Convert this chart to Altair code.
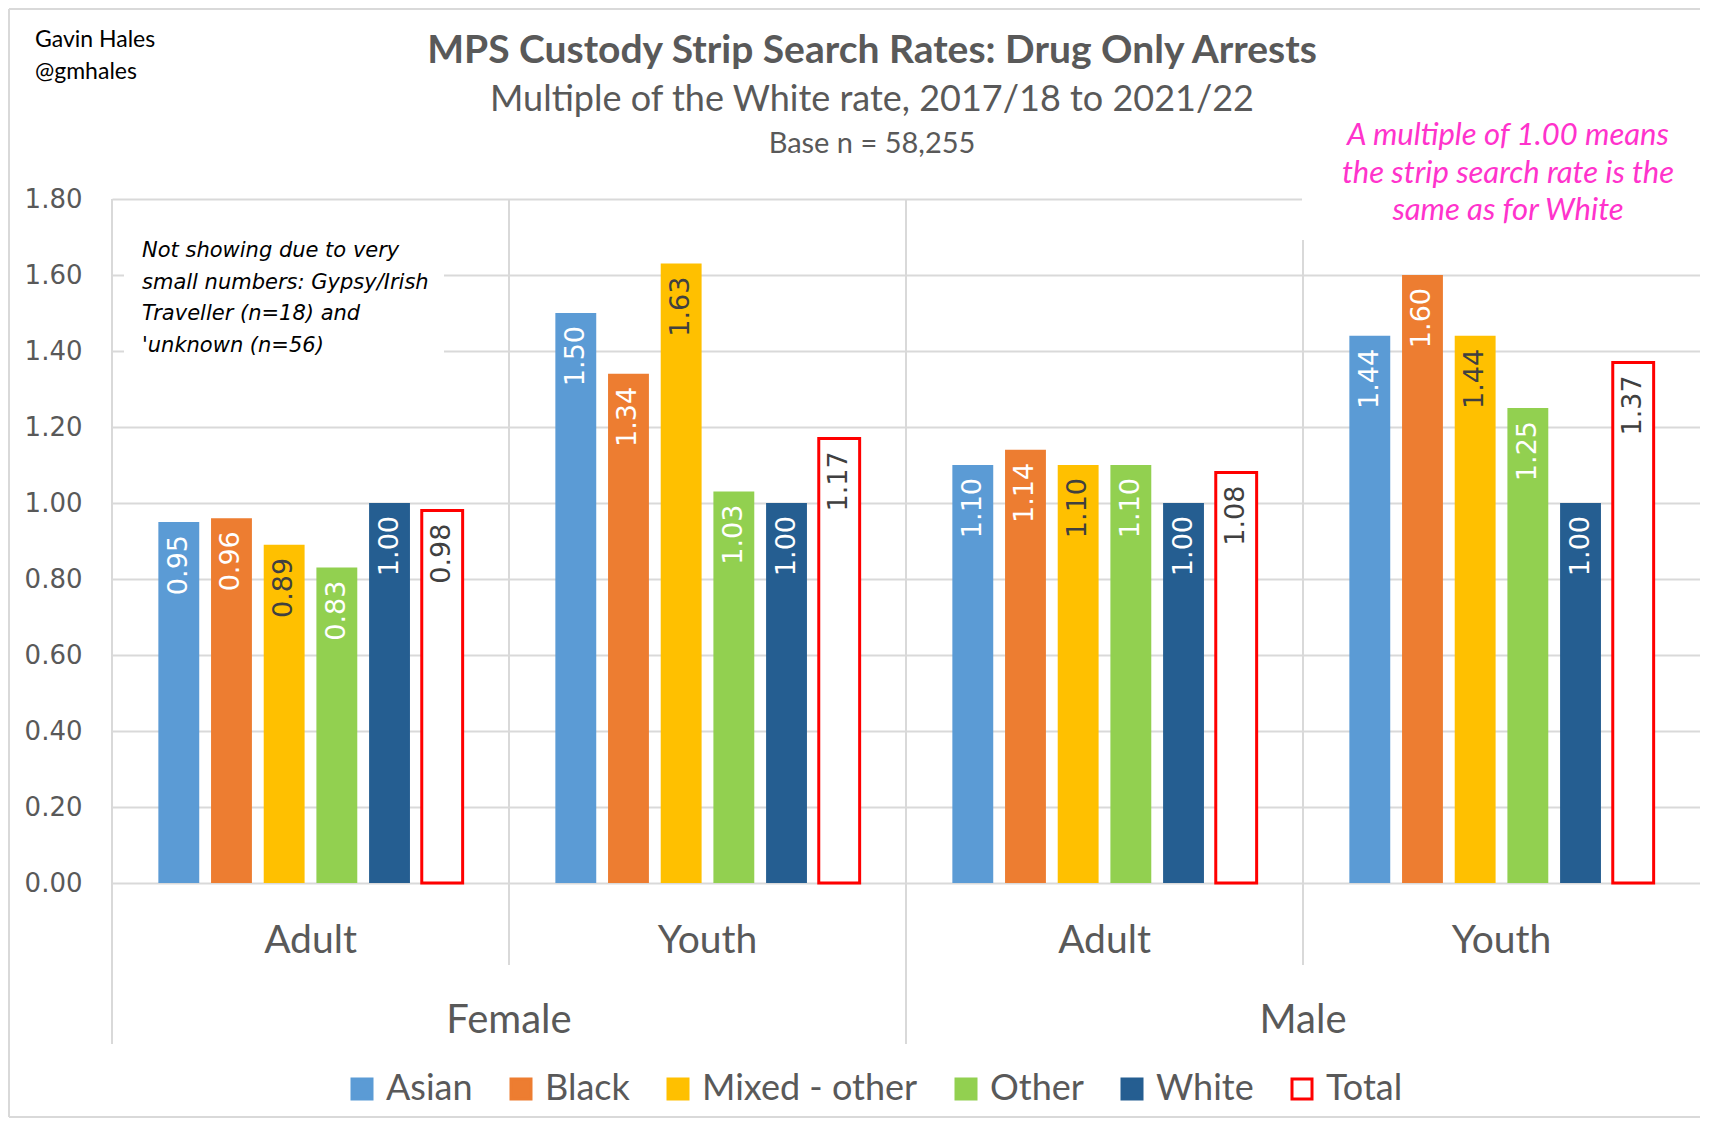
import altair as alt
import pandas as pd

# ---------------- data ----------------
groups = ["Female|Adult", "Female|Youth", "Male|Adult", "Male|Youth"]
ethnicities = ["Asian", "Black", "Mixed - other", "Other", "White", "Total"]
female_adult = [0.95, 0.96, 0.89, 0.83, 1.00, 0.98]
female_youth = [1.50, 1.34, 1.63, 1.03, 1.00, 1.17]
male_adult = [1.10, 1.14, 1.10, 1.10, 1.00, 1.08]
male_youth = [1.44, 1.60, 1.44, 1.25, 1.00, 1.37]
fill_colors = ["#5B9BD5", "#ED7D31", "#FFC000", "#92D050", "#255E91", "#FFFFFF"]
stroke_colors = ["#5B9BD5", "#ED7D31", "#FFC000", "#92D050", "#255E91", "#FF0000"]
dark_labels = ["Mixed - other", "Total"]
y_ticks = [0.0, 0.2, 0.4, 0.6, 0.8, 1.0, 1.2, 1.4, 1.6, 1.8]
gender_labels = ["Female", "Male"]
gender_pos = ["Female|Youth", "Male|Youth"]

title_text = "MPS Custody Strip Search Rates: Drug Only Arrests"
subtitle_text = "Multiple of the White rate, 2017/18 to 2021/22"
base_text = "Base n = 58,255"
author_lines = ["Gavin Hales", "@gmhales"]
note_lines = ["Not showing due to very", "small numbers: Gypsy/Irish",
              "Traveller (n=18) and", "'unknown (n=56)"]
pink_lines = ["A multiple of 1.00 means", "the strip search rate is the",
              "same as for White"]

rows = []
for g, vals in zip(groups, [female_adult, female_youth, male_adult, male_youth]):
    for e, v in zip(ethnicities, vals):
        rows.append({"group": g, "eth": e, "value": v})
df = pd.DataFrame(rows)

W, H = 1588, 684
GRAY = "#595959"
GRID = "#D9D9D9"

x_scale = alt.Scale(domain=groups, paddingInner=0, paddingOuter=0)
x_axis = alt.Axis(title=None, labelExpr="split(datum.label, '|')[1]", ticks=False,
                  domain=False, grid=False, labelFont="Lato", labelFontSize=39,
                  labelColor=GRAY, labelPadding=57, labelBaseline="middle", labelAngle=0)
x_enc = alt.X("group:N", sort=groups, scale=x_scale, axis=x_axis)
xoff = alt.XOffset("eth:N", sort=ethnicities,
                   scale=alt.Scale(domain=ethnicities, paddingInner=0.224, paddingOuter=0.88))
y_enc = alt.Y("value:Q", scale=alt.Scale(domain=[0, 1.8], nice=False),
              axis=alt.Axis(title=None, values=y_ticks, format=".2f", domain=False, ticks=False,
                            labelFont="DejaVu Sans", labelFontSize=26, labelColor=GRAY,
                            labelPadding=30, gridColor=GRID, gridWidth=2))

legend = alt.Legend(title=None, orient="none", legendX=232, legendY=872, direction="horizontal",
                    symbolType="square", symbolSize=400, symbolStrokeWidth=3,
                    labelFont="Lato", labelFontSize=36, labelColor=GRAY, labelLimit=0,
                    columnPadding=30, labelOffset=6)

base = alt.Chart(df)

bars = base.mark_bar().encode(
    x=x_enc, xOffset=xoff, y=y_enc,
    fill=alt.Fill("eth:N", sort=ethnicities,
                  scale=alt.Scale(domain=ethnicities, range=fill_colors), legend=legend),
    stroke=alt.Stroke("eth:N", sort=ethnicities,
                      scale=alt.Scale(domain=ethnicities, range=stroke_colors), legend=legend),
    strokeWidth=alt.condition(alt.datum.eth == "Total", alt.value(3), alt.value(0)),
)

lab_kw = dict(angle=270, align="right", baseline="middle", dx=-13,
              font="DejaVu Sans", fontSize=27)
labels_light = base.transform_filter(
    ~alt.FieldOneOfPredicate(field="eth", oneOf=dark_labels)
).mark_text(color="white", **lab_kw).encode(
    x=x_enc, xOffset=xoff, y=y_enc, text=alt.Text("value:Q", format=".2f"))
labels_dark = base.transform_filter(
    alt.FieldOneOfPredicate(field="eth", oneOf=dark_labels)
).mark_text(color="#404040", **lab_kw).encode(
    x=x_enc, xOffset=xoff, y=y_enc, text=alt.Text("value:Q", format=".2f"))

x_edge = alt.X("group:N", sort=groups, scale=x_scale, axis=x_axis, bandPosition=0)
long_rules = alt.Chart(pd.DataFrame({"group": ["Female|Adult", "Male|Adult"]})).mark_rule(
    color=GRID, strokeWidth=2).encode(x=x_edge, y=alt.value(0), y2=alt.value(845))
short_rules = alt.Chart(pd.DataFrame({"group": ["Female|Youth", "Male|Youth"]})).mark_rule(
    color=GRID, strokeWidth=2).encode(x=x_edge, y=alt.value(0), y2=alt.value(766))

gender = alt.Chart(pd.DataFrame({"group": gender_pos, "label": gender_labels})).mark_text(
    font="Lato", fontSize=40, color=GRAY, baseline="middle").encode(
    x=x_edge, y=alt.value(822), text="label:N")

one = pd.DataFrame({"a": [0]})
box_pink = alt.Chart(one).mark_rect(color="white").encode(
    x=alt.value(1190), x2=alt.value(W + 2), y=alt.value(-40), y2=alt.value(41))
box_note = alt.Chart(one).mark_rect(color="white").encode(
    x=alt.value(12), x2=alt.value(332), y=alt.value(35), y2=alt.value(166))

title = alt.Chart(one).mark_text(text=title_text, font="Lato", fontSize=39, fontWeight="bold",
                                 color=GRAY, baseline="middle").encode(
    x=alt.value(760), y=alt.value(-148))
subtitle = alt.Chart(one).mark_text(text=subtitle_text, font="Lato", fontSize=36,
                                    color=GRAY, baseline="middle").encode(
    x=alt.value(760), y=alt.value(-99))
base_n = alt.Chart(one).mark_text(text=base_text, font="Lato", fontSize=29,
                                  color=GRAY, baseline="middle").encode(
    x=alt.value(760), y=alt.value(-55))
author = alt.Chart(one).mark_text(text=author_lines, font="Lato", fontSize=23, color="black",
                                  align="left", baseline="middle", lineHeight=32).encode(
    x=alt.value(-77), y=alt.value(-159))
note = alt.Chart(one).mark_text(text=note_lines, font="DejaVu Sans", fontStyle="italic",
                                fontSize=21, color="black", align="left", baseline="middle",
                                lineHeight=31.5).encode(
    x=alt.value(30), y=alt.value(52))
pink = alt.Chart(one).mark_text(text=pink_lines, font="Lato", fontStyle="italic", fontSize=31,
                                color="#FF33CC", align="center", baseline="middle",
                                lineHeight=37.5).encode(
    x=alt.value(1396), y=alt.value(-63))

frame_top = alt.Chart(one).mark_rule(color=GRID, strokeWidth=2).encode(
    x=alt.value(-103), x2=alt.value(W + 10), y=alt.value(-190))
frame_left = alt.Chart(one).mark_rule(color=GRID, strokeWidth=2).encode(
    x=alt.value(-103), y=alt.value(-190), y2=alt.value(918))
frame_bottom = alt.Chart(one).mark_rule(color=GRID, strokeWidth=2).encode(
    x=alt.value(-103), x2=alt.value(W + 10), y=alt.value(918))

chart = alt.layer(
    long_rules, short_rules, bars, labels_light, labels_dark, gender,
    box_pink, box_note, title, subtitle, base_n, author, note, pink,
    frame_top, frame_left, frame_bottom,
).properties(
    width=W, height=H,
    padding={"left": 104, "top": 191, "right": 0, "bottom": 237},
    autosize=alt.AutoSizeParams(type="none"),
).configure_view(stroke=None).configure(background="white")

chart.save("out.html", embed_options={"renderer": "svg", "actions": False})
